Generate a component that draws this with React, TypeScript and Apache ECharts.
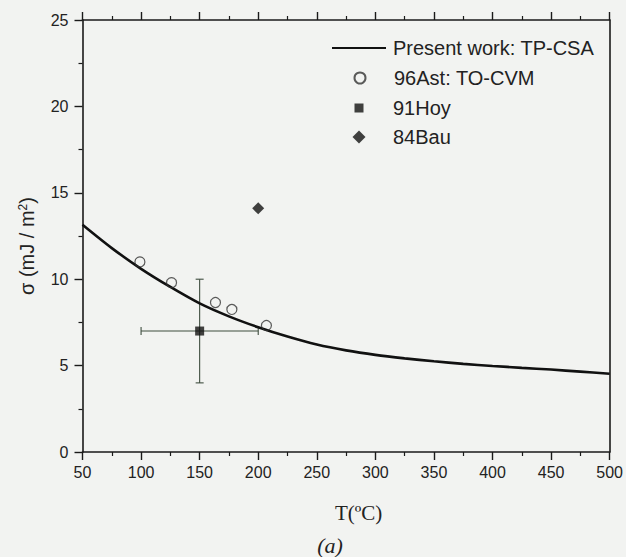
import React, { useEffect, useRef } from "react";
import * as echarts from "echarts";

// Present work: TP-CSA curve (T in °C, sigma in mJ/m2)
const curveT = [50, 75, 100, 125, 150, 175, 200, 225, 250, 275, 300, 325, 350, 375, 400, 425, 450, 475, 500];
const curveSigma = [13.15, 11.8, 10.6, 9.55, 8.6, 7.85, 7.22, 6.68, 6.22, 5.88, 5.62, 5.42, 5.25, 5.1, 4.98, 4.87, 4.77, 4.65, 4.53];

// 96Ast: TO-CVM
const astT = [99, 126, 163.5, 177.5, 207];
const astSigma = [11.0, 9.8, 8.65, 8.25, 7.32];

// 91Hoy with error bars
const hoyT = [150];
const hoySigma = [7.0];
const hoyTLow = [100];
const hoyTHigh = [200];
const hoySigmaLow = [4];
const hoySigmaHigh = [10];

// 84Bau
const bauT = [200];
const bauSigma = [14.1];

const xTicks = { min: 50, max: 500, interval: 50 };
const yTicks = { min: 0, max: 25, interval: 5 };

const names = ["Present work: TP-CSA", "96Ast: TO-CVM", "91Hoy", "84Bau"];

export default function App() {
  const ref = useRef<HTMLDivElement>(null);

  useEffect(() => {
    if (!ref.current) return;
    const chart = echarts.init(ref.current, undefined, { renderer: "svg" });
    const ink = "#1a1a1a";
    const txt = "#222";
    const sans = "Liberation Sans";

    const axisCommon = {
      axisLine: { show: true, onZero: false, lineStyle: { color: ink, width: 1.6 } },
      axisTick: { show: true, inside: false, length: 8, lineStyle: { color: ink, width: 1.4 } },
      minorTick: { show: true, splitNumber: 2, length: 4, lineStyle: { color: ink, width: 1.2 } },
      splitLine: { show: false },
      minorSplitLine: { show: false },
    };

    const iconCenterX = 359;
    const textStartX = 393;

    // symbol legend: icon centred on iconCenterX, text starting at textStartX
    const symbolLegend = (name: string, centerY: number, h: number) => ({
      show: true,
      data: [name],
      orient: "vertical",
      padding: 0,
      left: iconCenterX - h / 2,
      top: centerY - 10,
      itemWidth: h,
      itemHeight: h,
      selectedMode: false,
      textStyle: {
        fontFamily: sans,
        fontSize: 20,
        color: txt,
        padding: [0, 0, 0, textStartX - (iconCenterX + h / 2 + 5)],
      },
    });

    const errData = hoyT.map((t, i) => [t, hoySigma[i], hoyTLow[i], hoyTHigh[i], hoySigmaLow[i], hoySigmaHigh[i]]);

    chart.setOption({
      animation: false,
      backgroundColor: "#f2f3f1",
      grid: { left: 82.5, right: 15.3, top: 20, bottom: 105, containLabel: false },
      legend: [
        {
          show: true,
          data: [{ name: names[0], icon: "rect" }],
          orient: "vertical",
          padding: 0,
          left: 332,
          top: 38,
          itemWidth: 54,
          itemHeight: 2,
          selectedMode: false,
          itemStyle: { color: "#111" },
          textStyle: { fontFamily: sans, fontSize: 20, color: txt, padding: [0, 0, 0, 2] },
        },
        symbolLegend(names[1], 78, 11),
        symbolLegend(names[2], 108, 9),
        symbolLegend(names[3], 137, 13),
      ],
      xAxis: [
        {
          type: "value",
          position: "bottom",
          ...xTicks,
          ...axisCommon,
          axisLabel: { show: true, margin: 12, fontFamily: sans, fontSize: 16, color: txt },
          name: "T(ºC)",
          nameLocation: "middle",
          nameGap: 50,
          nameTextStyle: { fontFamily: "Liberation Serif", fontSize: 21, color: txt, padding: [0, 0, 0, 25] },
        },
        {
          type: "value",
          position: "top",
          ...xTicks,
          ...axisCommon,
          axisLabel: { show: false },
        },
      ],
      yAxis: [
        {
          type: "value",
          position: "left",
          ...yTicks,
          ...axisCommon,
          axisLabel: { show: true, margin: 14, fontFamily: sans, fontSize: 16, color: txt },
          name: "{a|σ (mJ / m}{s|2}{a|)}",
          nameLocation: "middle",
          nameGap: 45,
          nameTextStyle: {
            color: txt,
            padding: [0, 20, 0, 0],
            rich: {
              a: { fontFamily: sans, fontSize: 20, color: txt },
              s: { fontFamily: sans, fontSize: 12, color: txt, padding: [0, 0, 9, 0] },
            },
          },
        },
        {
          type: "value",
          position: "right",
          ...yTicks,
          axisLine: { show: true, onZero: false, lineStyle: { color: ink, width: 1.6 } },
          axisTick: { show: false },
          minorTick: { show: false },
          axisLabel: { show: false },
          splitLine: { show: false },
        },
      ],
      series: [
        {
          name: names[0],
          type: "line",
          data: curveT.map((t, i) => [t, curveSigma[i]]),
          smooth: 0.3,
          showSymbol: false,
          symbol: "none",
          lineStyle: { color: "#111", width: 2.6 },
          itemStyle: { color: "#111" },
          z: 3,
        },
        {
          name: "err",
          type: "custom",
          encode: { x: 0, y: 1 },
          data: errData,
          renderItem: (params: any, api: any) => {
            const x = api.value(0);
            const y = api.value(1);
            const l = api.coord([api.value(2), y]);
            const r = api.coord([api.value(3), y]);
            const b = api.coord([x, api.value(4)]);
            const t = api.coord([x, api.value(5)]);
            const cap = 4;
            const st = { stroke: "#3f4e3f", lineWidth: 1.1 };
            return {
              type: "group",
              children: [
                { type: "line", shape: { x1: l[0], y1: l[1], x2: r[0], y2: r[1] }, style: st },
                { type: "line", shape: { x1: b[0], y1: b[1], x2: t[0], y2: t[1] }, style: st },
                { type: "line", shape: { x1: l[0], y1: l[1] - cap, x2: l[0], y2: l[1] + cap }, style: st },
                { type: "line", shape: { x1: r[0], y1: r[1] - cap, x2: r[0], y2: r[1] + cap }, style: st },
                { type: "line", shape: { x1: b[0] - cap, y1: b[1], x2: b[0] + cap, y2: b[1] }, style: st },
                { type: "line", shape: { x1: t[0] - cap, y1: t[1], x2: t[0] + cap, y2: t[1] }, style: st },
              ],
            };
          },
          z: 2,
        },
        {
          name: names[1],
          type: "scatter",
          data: astT.map((t, i) => [t, astSigma[i]]),
          symbol: "circle",
          symbolSize: 10,
          itemStyle: { color: "rgba(0,0,0,0)", borderColor: "#333", borderWidth: 1.2 },
          z: 4,
        },
        {
          name: names[2],
          type: "scatter",
          data: hoyT.map((t, i) => [t, hoySigma[i]]),
          symbol: "rect",
          symbolSize: 9,
          itemStyle: { color: "#111" },
          z: 5,
        },
        {
          name: names[3],
          type: "scatter",
          data: bauT.map((t, i) => [t, bauSigma[i]]),
          symbol: "diamond",
          symbolSize: 12,
          itemStyle: { color: "#111" },
          z: 5,
        },
      ],
      graphic: [
        {
          type: "text",
          x: 330,
          y: 545,
          style: {
            text: "(a)",
            fontFamily: "Liberation Serif",
            fontStyle: "italic",
            fontSize: 22,
            fill: txt,
            align: "center",
            verticalAlign: "middle",
          },
        },
      ],
    });

    return () => chart.dispose();
  }, []);

  return (
    <div
      ref={ref}
      style={{ position: "absolute", left: 0, top: 0, width: 626, height: 557 }}
    />
  );
}
